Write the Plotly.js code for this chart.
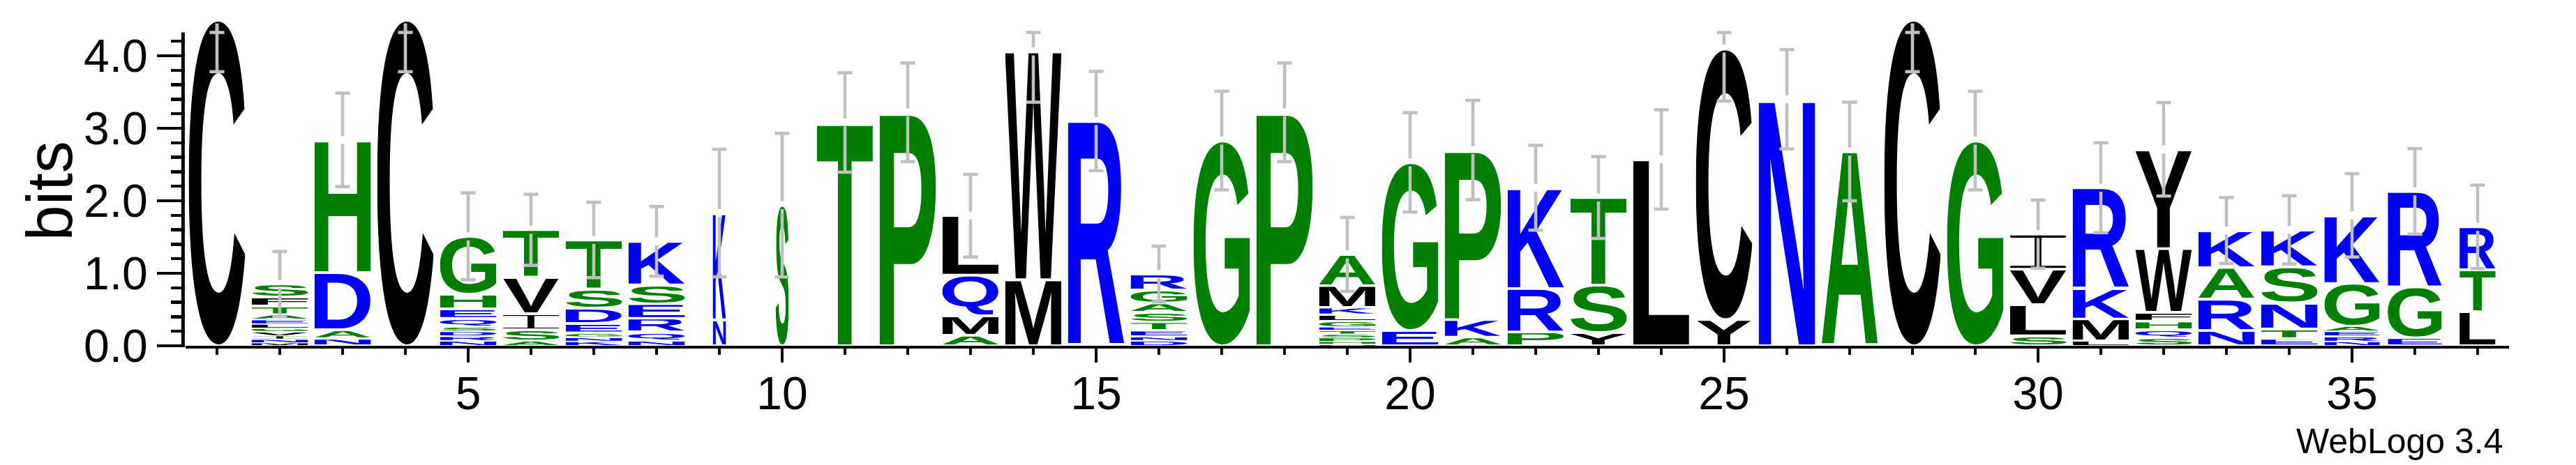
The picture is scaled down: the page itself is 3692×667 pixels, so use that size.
<!DOCTYPE html>
<html>
<head>
<meta charset="utf-8">
<script src="https://cdn.plot.ly/plotly-3.0.1.min.js"></script>
<style>html,body{margin:0;padding:0;background:#fff;}#logo{width:3692px;height:667px;}</style>
</head>
<body>
<div id="logo"></div>
<script>
const positions = [1,2,3,4,5,6,7,8,9,10,11,12,13,14,15,16,17,18,19,20,21,22,23,24,25,26,27,28,29,30,31,32,33,34,35,36,37];
// letters of each stack, top to bottom
const stackLetters = [
  ["C"],
  ["S","F","T","A","E","L","G","V","I","N","M"],
  ["H","D","A","N"],
  ["C"],
  ["G","H","E","Q","S","D","R","N"],
  ["T","V","I","S","A"],
  ["T","S","D","E","G","N","K"],
  ["K","S","E","R","Q","N"],
  ["K","N"],
  ["S"],
  ["T"],
  ["P"],
  ["L","Q","M","A"],
  ["W","M"],
  ["R"],
  ["R","G","A","S","T","E","N","D"],
  ["G"],
  ["P"],
  ["A","M","K","L","G","E","T","S","P","H","N"],
  ["G","E"],
  ["P","K","A"],
  ["K","R","P"],
  ["T","S","Y"],
  ["L"],
  ["C","Y"],
  ["N"],
  ["A"],
  ["C"],
  ["G"],
  ["I","V","L","S"],
  ["R","K","M","L"],
  ["Y","W","F","H","Q","S"],
  ["K","A","R","N"],
  ["K","S","N","T","E"],
  ["K","G","A","E","R","N"],
  ["R","G","E"],
  ["R","T","L"]
];
// letter heights in bits, same order
const stackHeights = [
  [4.50],
  [0.18,0.12,0.12,0.07,0.06,0.06,0.05,0.05,0.05,0.05,0.04],
  [1.83,0.79,0.12,0.10],
  [4.50],
  [0.80,0.20,0.13,0.12,0.06,0.07,0.06,0.07],
  [0.66,0.50,0.22,0.15,0.07],
  [0.68,0.26,0.21,0.13,0.06,0.06,0.06],
  [0.60,0.26,0.20,0.19,0.12,0.07],
  [1.47,0.36],
  [1.94],
  [3.08],
  [3.22],
  [0.82,0.56,0.27,0.145],
  [3.15,0.91],
  [3.10],
  [0.22,0.18,0.13,0.13,0.12,0.08,0.06,0.07],
  [2.83],
  [3.22],
  [0.43,0.30,0.10,0.09,0.08,0.05,0.05,0.05,0.05,0.04,0.02],
  [2.32,0.21],
  [2.34,0.24,0.12],
  [1.39,0.60,0.19],
  [1.21,0.65,0.185],
  [2.57],
  [3.74,0.36],
  [3.40],
  [2.68],
  [4.50],
  [2.83],
  [0.485,0.485,0.43,0.14],
  [1.39,0.42,0.30,0.07],
  [1.37,0.88,0.12,0.12,0.11,0.11],
  [0.51,0.44,0.43,0.21],
  [0.51,0.50,0.36,0.13,0.10],
  [0.94,0.59,0.07,0.07,0.07,0.06],
  [1.32,0.70,0.11],
  [0.59,0.58,0.47]
];
// column width (fraction of a full column)
const columnWidth = [1,1,1,1,1,1,1,1,0.235,0.235,1,1,1,1,1,1,1,1,1,1,1,1,1,1,1,1,1,1,1,1,1,1,1,1,0.98,0.96,0.64];
// error bar half-lengths (bits)
const errorHalf = [0.72,0.45,0.645,0.72,0.60,0.49,0.52,0.48,0.88,0.99,0.685,0.68,0.57,0.70,0.685,0.385,0.68,0.68,0.51,0.685,0.685,0.585,0.565,0.685,0.725,0.685,0.68,0.72,0.68,0.47,0.62,0.645,0.455,0.47,0.575,0.59,0.575];
const yTickVals = [0,1,2,3,4];
const yTickText = ["0.0","1.0","2.0","3.0","4.0"];
const yMinorTicks = [0.2,0.4,0.6,0.8,1.2,1.4,1.6,1.8,2.2,2.4,2.6,2.8,3.2,3.4,3.6,3.8,4.2];
const xTickVals = [5,10,15,20,25,30,35];

// ---- styling ----
const FONT = 'Liberation Sans, Arial, sans-serif';
const MAXBITS = Math.log2(20);
const LETTER_W = 0.9;
const GAP = 0.055, CAP = 0.117;
const colorOf = ch => ('RKDENQ'.includes(ch) ? '#0000ff' : ('SGHTAP'.includes(ch) ? '#008000' : '#000000'));

const ctx = document.createElement('canvas').getContext('2d');
const FS = 200;
ctx.font = 'bold ' + FS + 'px "Liberation Sans"';
const cache = {};
function glyphSrc(ch, color) {
  const key = ch + color;
  if (cache[key]) return cache[key];
  let svg;
  if (ch === 'I') {
    svg = '<svg xmlns="http://www.w3.org/2000/svg" viewBox="0 0 100 100" preserveAspectRatio="none"><g fill="' + color + '">' +
      '<rect x="0" y="0" width="100" height="7" rx="3.5"/><rect x="0" y="93" width="100" height="7" rx="3.5"/>' +
      '<rect x="44" y="0" width="12" height="100"/></g></svg>';
  } else {
    const m = ctx.measureText(ch);
    const l = -m.actualBoundingBoxLeft, r = m.actualBoundingBoxRight;
    const t = -m.actualBoundingBoxAscent, b = m.actualBoundingBoxDescent;
    svg = '<svg xmlns="http://www.w3.org/2000/svg" viewBox="' + l + ' ' + t + ' ' + (r - l) + ' ' + (b - t) +
      '" preserveAspectRatio="none"><text x="0" y="0" font-family="Liberation Sans" font-weight="bold" font-size="' + FS +
      '" fill="' + color + '">' + ch + '</text></svg>';
  }
  cache[key] = 'data:image/svg+xml;charset=utf-8,' + encodeURIComponent(svg);
  return cache[key];
}

const images = [];
const ex = [], ey = [];
positions.forEach((p, i) => {
  const letters = stackLetters[i], hs = stackHeights[i];
  const w = LETTER_W * columnWidth[i];
  let base = 0;
  for (let j = letters.length - 1; j >= 0; j--) {
    const h = hs[j];
    const pad = Math.min(0.017, h * 0.15);
    images.push({
      source: glyphSrc(letters[j], colorOf(letters[j])),
      xref: 'x', yref: 'y', x: p - w / 2, y: base + h - pad,
      sizex: w, sizey: h - 2 * pad, sizing: 'stretch',
      xanchor: 'left', yanchor: 'top', layer: 'below'
    });
    base += h;
  }
  const top = base, e = errorHalf[i];
  const up = Math.min(top + e, MAXBITS), lo = top - e;
  const s1 = top + (up > top ? GAP : -GAP);
  ex.push(p, p, null, p, p, null, p - CAP, p + CAP, null, p - CAP, p + CAP, null);
  ey.push(s1, up, null, top - GAP, lo, null, up, up, null, lo, lo, null);
});

const traces = [{
  type: 'scatter', mode: 'lines', x: ex, y: ey, connectgaps: false,
  line: {color: '#c0c0c0', width: 4.6}, hoverinfo: 'skip', showlegend: false
}];

const layout = {
  width: 3692, height: 667,
  margin: {l: 266, r: 96, t: 2, b: 171, pad: 0},
  paper_bgcolor: '#ffffff', plot_bgcolor: '#ffffff',
  showlegend: false,
  font: {family: FONT, color: '#000000'},
  xaxis: {
    range: [0.5, 37.5], tickmode: 'array', tickvals: xTickVals,
    ticks: 'outside', ticklen: 20, tickwidth: 4.7, tickcolor: '#000',
    showline: true, linewidth: 4, linecolor: '#000',
    showgrid: false, zeroline: false, ticklabelstandoff: -12,
    tickfont: {family: FONT, size: 66, color: '#000'},
    minor: {tickmode: 'array', tickvals: positions, ticks: 'outside', ticklen: 9, tickwidth: 4.7, tickcolor: '#000', showgrid: false}
  },
  yaxis: {
    range: [0, 4.75], tickmode: 'array', tickvals: yTickVals, ticktext: yTickText,
    ticks: 'outside', ticklen: 40, tickwidth: 4.5, tickcolor: '#000',
    showline: false, showgrid: false, zeroline: false,
    tickfont: {family: FONT, size: 66, color: '#000'},
    minor: {tickmode: 'array', tickvals: yMinorTicks, ticks: 'outside', ticklen: 20, tickwidth: 4.5, tickcolor: '#000', showgrid: false}
  },
  shapes: [{
    type: 'line', xref: 'paper', yref: 'y', x0: -0.0011, x1: -0.0011, y0: -0.04, y1: MAXBITS,
    line: {color: '#000', width: 5}
  }],
  images: images,
  annotations: [
    {text: 'bits', xref: 'paper', yref: 'paper', x: -0.0585, y: 0.449, xanchor: 'center', yanchor: 'middle',
     textangle: -90, showarrow: false, font: {family: FONT, size: 92, color: '#000'}},
    {text: 'WebLogo 3.4', xref: 'paper', yref: 'paper', x: 0.9982, y: -0.2767, xanchor: 'right', yanchor: 'middle',
     showarrow: false, font: {family: FONT, size: 50, color: '#000'}}
  ]
};

Plotly.newPlot('logo', traces, layout, {displayModeBar: false, staticPlot: true});
</script>
</body>
</html>
